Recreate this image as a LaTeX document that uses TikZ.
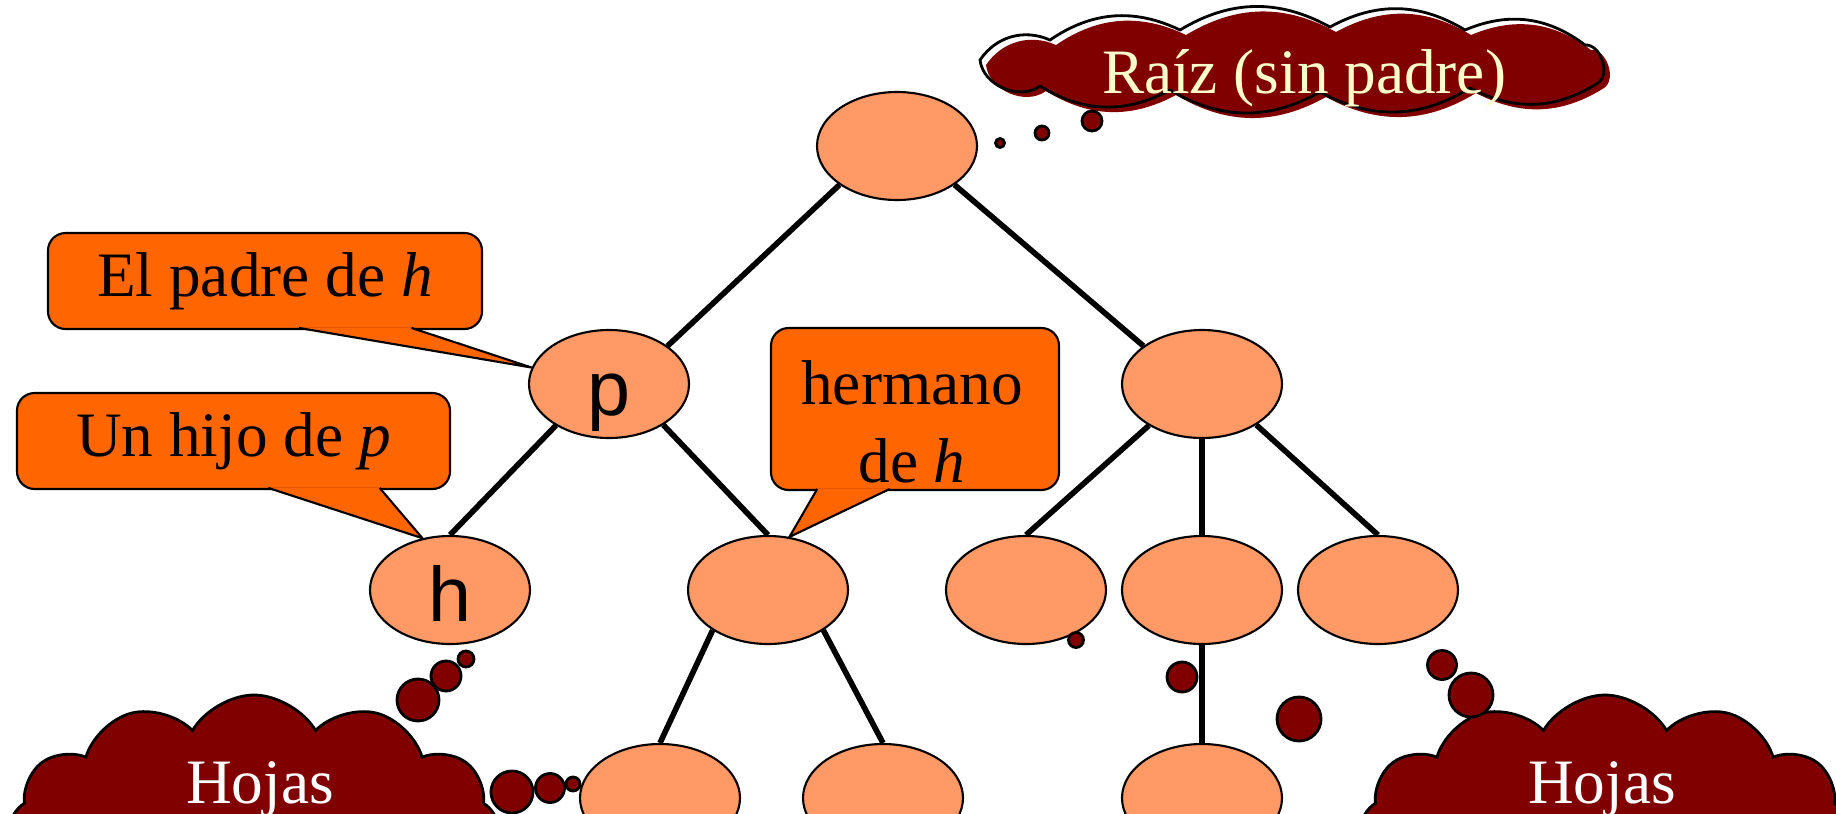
\documentclass[tikz,border=0pt]{standalone}
\usepackage{fontspec}
\setmainfont{Liberation Serif}
\newfontfamily\arialfont{Liberation Sans}
\usetikzlibrary{shapes.geometric,shapes.symbols,calc}
\definecolor{salmon}{HTML}{FF9966}
\definecolor{naranja}{HTML}{FF6600}
\definecolor{granate}{HTML}{800000}
\definecolor{crema}{HTML}{FFFFCC}

\begin{document}
\begin{tikzpicture}[
    nodo/.style={ellipse, draw=black, line width=0.6pt, fill=salmon, minimum width=1.6cm, minimum height=1.08cm, inner sep=0pt,
        font=\arialfont\fontsize{22}{26}\selectfont, text height=18pt, text depth=0pt},
    arista/.style={line width=1.6pt},
    globo/.style={draw=black, line width=0.6pt, fill=naranja, rounded corners=5pt, inner sep=0pt, font=\fontsize{18}{22}\selectfont},
    cola/.style={fill=naranja, draw=black, line width=0.6pt},
    nube/.style={cloud, cloud ignores aspect, cloud puff arc=120, draw=black, line width=0.8pt, fill=granate, inner sep=0pt},
    contornoraiz/.style={insert path={(9.80,7.53) to[bend left=40] (10.50,7.73) to[bend left=30] (11.80,7.83)
        to[bend left=30] (13.30,7.86) to[bend left=30] (14.65,7.83) to[bend left=30] (15.85,7.68)
        to[bend left=75] (15.98,7.30) to[bend left=30] (14.70,7.25) to[bend left=30] (13.20,7.21)
        to[bend left=30] (11.70,7.23) to[bend left=30] (10.40,7.27) to[bend left=60] (9.80,7.53) -- cycle}},
    rotulo/.style={anchor=base, font=\fontsize{18}{22}\selectfont},
    burbuja/.style={fill=granate, draw=black, line width=0.8pt}
]
    \useasboundingbox (0,0) rectangle (18.36,8.13);
    \clip (0,0) rectangle (18.36,8.13);

    % the tree
    \node[nodo] (raiz) at (8.97,6.67) {};
    \node[nodo] (p) at (6.09,4.29) {p};
    \node[nodo] (der) at (12.02,4.29) {};
    \node[nodo] (h) at (4.50,2.23) {h};
    \node[nodo] (herm) at (7.68,2.23) {};
    \node[nodo] (d1) at (10.26,2.23) {};
    \node[nodo] (d2) at (12.02,2.23) {};
    \node[nodo] (d3) at (13.78,2.23) {};
    \node[nodo] (hojaA) at (6.60,0.15) {};
    \node[nodo] (hojaB) at (8.83,0.15) {};
    \node[nodo] (hojaC) at (12.02,0.15) {};

    \draw[arista] (raiz.214) -- (p.33);
    \draw[arista] (raiz.326) -- (der.147);
    \draw[arista] (p.218) -- (h.north); % h is a child of p
    \draw[arista] (p.323) -- (herm.north);
    \draw[arista] (der.218) -- (d1.north);
    \draw[arista] (der.south) -- (d2.north);
    \draw[arista] (der.323) -- (d3.north);
    \draw[arista] (herm.216) -- (hojaA.north);
    \draw[arista] (herm.324) -- (hojaB.north);
    \draw[arista] (d2.south) -- (hojaC.north);

    % thought clouds
    \fill[granate, shift={(0.06,-0.05)}, contornoraiz];
    \draw[line width=0.8pt, contornoraiz];
    \node[rotulo, text=crema] (raiztexto) at (13.04,7.20) {Raíz (sin padre)};

    \node[nube, minimum width=4.9cm, minimum height=2.7cm, cloud puffs=12] (nubeizq) at (2.54,-0.17) {};
    \node[rotulo, text=white] (hojasizq) at (2.60,0.10) {Hojas};
    \node[nube, minimum width=4.9cm, minimum height=2.7cm, cloud puffs=12] (nubeder) at (16.05,-0.17) {};
    \node[rotulo, text=white] (hojasder) at (16.02,0.10) {Hojas};

    \foreach \x/\y/\r in {10.00/6.70/0.045, 10.42/6.80/0.07, 10.92/6.92/0.10,
        4.66/1.54/0.08, 4.46/1.37/0.15, 4.18/1.13/0.21,
        5.12/0.21/0.21, 5.50/0.25/0.145, 5.73/0.29/0.07,
        10.76/1.73/0.075, 11.82/1.36/0.15, 12.99/0.94/0.22,
        14.42/1.48/0.145, 14.71/1.18/0.22}
        \filldraw[burbuja] (\x,\y) circle (\r);

    % callouts
    \node[globo, minimum width=4.34cm, minimum height=0.96cm] (padre) at (2.65,5.32) {El padre de \textit{h}};
    \node[globo, minimum width=4.33cm, minimum height=0.96cm] (hijo) at (2.335,3.72) {Un hijo de \textit{p}};
    \node[globo, minimum width=2.88cm, minimum height=1.62cm] (hermano) at (9.15,4.04) {};
    \node[align=center, inner sep=0pt, font=\fontsize{18}{22}\selectfont] (hermanotexto) at (9.12,3.91) {hermano\\de \textit{h}};

    \draw[cola] ($(padre.south west)!0.578!(padre.south east)+(0,0.6pt)$) -- (p.168) -- ($(padre.south west)!0.836!(padre.south east)+(0,0.6pt)$);
    \draw[cola] ($(hijo.south west)!0.58!(hijo.south east)+(0,0.6pt)$) -- (h.118) -- ($(hijo.south west)!0.836!(hijo.south east)+(0,0.6pt)$);
    \draw[cola] ($(hermano.south west)!0.163!(hermano.south east)+(0,0.6pt)$) -- (herm.68) -- ($(hermano.south west)!0.413!(hermano.south east)+(0,0.6pt)$);
\end{tikzpicture}
\end{document}
